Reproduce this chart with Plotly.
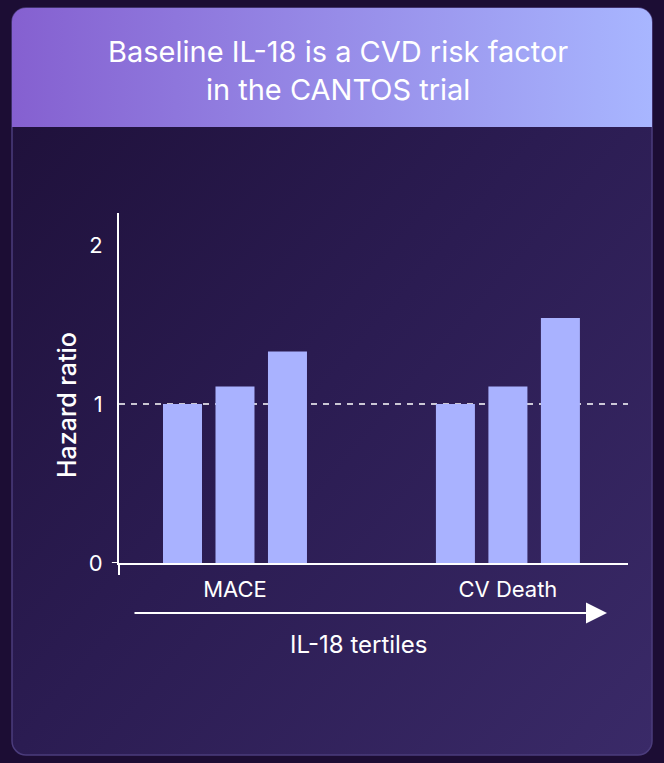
import base64
import plotly.graph_objects as go

# hazard ratios, per IL-18 tertile
outcomes = ["MACE", "CV Death"]
tertile_names = ["Tertile 1", "Tertile 2", "Tertile 3"]
hr_t1 = [1.0, 1.0]
hr_t2 = [1.11, 1.11]
hr_t3 = [1.33, 1.54]
y_ticks = [0, 1, 2]

title_lines = ["Baseline IL-18 is a CVD risk factor", "in the CANTOS trial"]
y_title = "Hazard ratio"
x_title = "IL-18 tertiles"

W, H = 664, 763
ml, mr, mt, mb = 119, 36, 213, 200
bar_col = "#a9b2ff"
font = "Inter"

# background card as an svg (plotly has no gradient paper)
svg = f"""<svg xmlns='http://www.w3.org/2000/svg' width='{W}' height='{H}' viewBox='0 0 {W} {H}'>
<defs>
<linearGradient id='card' x1='0' y1='0' x2='1' y2='1'>
<stop offset='0' stop-color='#1d0f37'/><stop offset='0.5' stop-color='#2b1c52'/><stop offset='1' stop-color='#3a2a68'/>
</linearGradient>
<linearGradient id='head' x1='0' y1='0' x2='1' y2='0'>
<stop offset='0' stop-color='#8560d0'/><stop offset='1' stop-color='#a8b6ff'/>
</linearGradient>
<clipPath id='cl'><rect x='12' y='8' width='640' height='747' rx='14' ry='14'/></clipPath>
</defs>
<rect width='{W}' height='{H}' fill='#1c0d34'/>
<rect x='12' y='8' width='640' height='747' rx='14' ry='14' fill='url(#card)' stroke='#4b3c7c' stroke-width='1.5'/>
<rect x='12' y='8' width='640' height='119' fill='url(#head)' clip-path='url(#cl)'/>
</svg>"""
bg_uri = "data:image/svg+xml;base64," + base64.b64encode(svg.encode()).decode()

pw, ph = W - ml - mr, H - mt - mb


def px_x(x):
    return (x - ml) / pw


def px_y(y):
    return 1 - (y - mt) / ph


fig = go.Figure()
for name, vals in zip(tertile_names, [hr_t1, hr_t2, hr_t3]):
    fig.add_trace(go.Bar(x=outcomes, y=vals, name=name, marker_color=bar_col,
                         marker_line_width=0))

fig.update_layout(
    width=W, height=H,
    margin=dict(l=ml, r=mr, t=mt, b=mb),
    paper_bgcolor="#1c0d34", plot_bgcolor="rgba(0,0,0,0)",
    showlegend=False, barmode="group", bargap=0.423, bargroupgap=0.257,
    font=dict(family=font, color="white"),
)
fig.add_layout_image(dict(source=bg_uri, xref="paper", yref="paper",
                          x=px_x(0), y=px_y(0), sizex=W / pw, sizey=H / ph,
                          sizing="stretch", xanchor="left", yanchor="top", layer="below"))

fig.update_xaxes(range=[-0.425, 1.44], showline=True, linecolor="white", linewidth=2,
                 showgrid=False, zeroline=False, ticks="", tickfont=dict(size=22, color="white"),
                 ticklabelstandoff=6)
fig.update_yaxes(range=[0, 2.2], tickvals=y_ticks, showline=True, linecolor="white", linewidth=2,
                 showgrid=False, zeroline=False, ticks="", tickfont=dict(size=22, color="white"),
                 ticklabelstandoff=10)

# reference line at HR = 1
fig.add_shape(type="line", xref="x domain", yref="y", x0=0, x1=1, y0=1, y1=1,
              line=dict(color="white", width=1.5, dash="6px,6px"), layer="below")
# little overhangs where the axes meet
fig.add_shape(type="line", xref="x domain", yref="y", x0=-0.014, x1=0, y0=0, y1=0,
              line=dict(color="white", width=2))
fig.add_shape(type="line", xref="x domain", yref="y domain", x0=0, x1=0, y0=-0.034, y1=0,
              line=dict(color="white", width=2))

# header
fig.add_annotation(text="<br>".join(title_lines), xref="paper", yref="paper",
                   x=px_x(338), y=px_y(70), xanchor="center", yanchor="middle",
                   showarrow=False, align="center",
                   font=dict(size=29, color="white", family=font, weight=400))
# y title
fig.add_annotation(text=y_title, xref="paper", yref="paper", x=px_x(67), y=px_y(405),
                   xanchor="center", yanchor="middle", textangle=-90, showarrow=False,
                   font=dict(size=25, color="white", family=font, weight=500))
# arrow under the categories
fig.add_annotation(x=px_x(607), y=px_y(613), xref="paper", yref="paper",
                   ax=-(607 - 133), ay=0, axref="pixel", ayref="pixel",
                   text="", showarrow=True, arrowhead=2, arrowsize=2.1, arrowwidth=2,
                   arrowcolor="white")
fig.add_annotation(text=x_title, xref="paper", yref="paper", x=px_x(359), y=px_y(644),
                   xanchor="center", yanchor="middle", showarrow=False,
                   font=dict(size=24, color="white", family=font))

fig.write_html("out.html", config={"displayModeBar": False},
               post_script="document.body.style.margin='0';")
